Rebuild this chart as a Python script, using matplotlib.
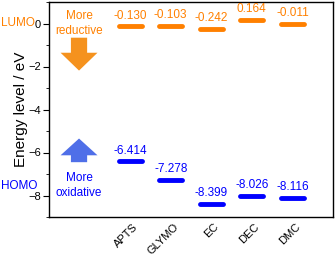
import matplotlib

matplotlib.use("Agg")
import matplotlib.pyplot as plt
import matplotlib.transforms as mtransforms
from matplotlib.patches import FancyArrow
from matplotlib.ticker import MultipleLocator

plt.rcParams["font.family"] = ["Liberation Sans", "DejaVu Sans"]

# data
solvents = ["APTS", "GLYMO", "EC", "DEC", "DMC"]
lumo = [-0.130, -0.103, -0.242, 0.164, -0.011]
homo = [-6.414, -7.278, -8.399, -8.026, -8.116]

ORANGE = "#ff8000"
BLUE = "#0000ff"
ARROW_ORANGE = "#f5921e"
ARROW_BLUE = "#4f6fe8"

fig = plt.figure(figsize=(3.36, 2.56), dpi=100)
ax = fig.add_axes([49 / 336, 1 - 217 / 256, 284 / 336, 215 / 256])

xs = list(range(1, len(solvents) + 1))
half = 0.28
ax.hlines(lumo, [x - half for x in xs], [x + half for x in xs], color=ORANGE,
          linewidth=3.5, capstyle="round")
ax.hlines(homo, [x - half for x in xs], [x + half for x in xs], color=BLUE,
          linewidth=3.5, capstyle="round")
for x, v in zip(xs, lumo):
    ax.text(x, v + 0.22, f"{v:.3f}", color=ORANGE, ha="center", va="bottom", fontsize=8.5)
for x, v in zip(xs, homo):
    ax.text(x, v + 0.22, f"{v:.3f}", color=BLUE, ha="center", va="bottom", fontsize=8.5)

# arrows
ax.add_patch(FancyArrow(-0.26, -0.66, 0, -1.53, width=0.40, head_width=0.91,
                        head_length=0.83, length_includes_head=True,
                        color=ARROW_ORANGE, linewidth=0))
ax.add_patch(FancyArrow(-0.26, -6.45, 0, 1.10, width=0.40, head_width=0.91,
                        head_length=0.78, length_includes_head=True,
                        color=ARROW_BLUE, linewidth=0))
ax.text(-0.26, 0.0, "More\nreductive", color=ORANGE, ha="center", va="center",
        fontsize=8.5, linespacing=1.3)
ax.text(-0.26, -7.54, "More\noxidative", color=BLUE, ha="center", va="center",
        fontsize=8.5, linespacing=1.3)

ax.set_xlim(-1, 6)
ax.set_ylim(-9, 1)
ax.yaxis.set_major_locator(MultipleLocator(2))
ax.yaxis.set_minor_locator(MultipleLocator(1))
ax.tick_params(axis="y", which="major", direction="out", length=4, labelsize=8, pad=2)
ax.tick_params(axis="y", which="minor", direction="out", length=2)
ax.set_xticks(xs)
ax.set_xticklabels(solvents, rotation=45, ha="right", va="center",
                   rotation_mode="anchor", fontsize=8)
ax.tick_params(axis="x", length=0, pad=6)
offset = mtransforms.ScaledTranslation(6 / 100, 0, fig.dpi_scale_trans)
for lab in ax.get_xticklabels():
    lab.set_transform(lab.get_transform() + offset)

for s in ax.spines.values():
    s.set_linewidth(1.0)

ax.set_ylabel("Energy level / eV", fontsize=11, labelpad=0)

# LUMO / HOMO side labels, flush with the left edge of the figure
side = mtransforms.blended_transform_factory(fig.transFigure, ax.transData)
ax.text(1 / 336, 0, "LUMO", color=ORANGE, transform=side,
        ha="left", va="center", fontsize=8.5)
ax.text(1 / 336, -7.55, "HOMO", color=BLUE, transform=side,
        ha="left", va="center", fontsize=8.5)

fig.savefig("out.png", dpi=100)
